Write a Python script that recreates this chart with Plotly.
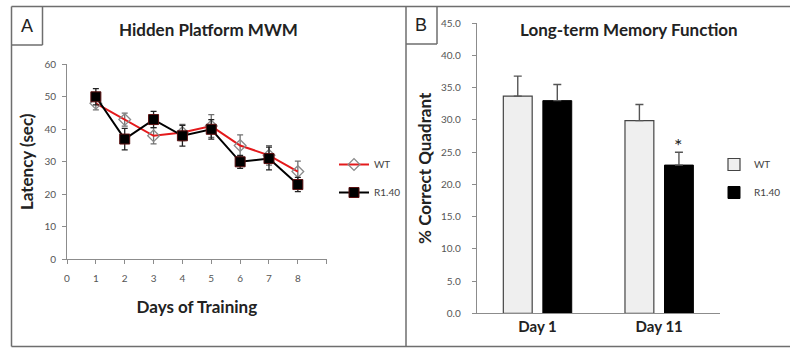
import plotly.graph_objects as go

W, H = 790, 348

# ---- Panel A data ----
days = [1, 2, 3, 4, 5, 6, 7, 8]
wt_latency = [48, 43, 38, 39, 41, 35, 32, 27]
wt_latency_err = [2.0, 2.0, 2.5, 2.5, 3.5, 3.3, 3.0, 3.2]
r140_latency = [50, 37, 43, 38, 40, 30, 31, 23]
r140_latency_err = [2.5, 3.3, 2.5, 3.2, 3.0, 2.0, 3.5, 2.2]
x_ticks_a = [0, 1, 2, 3, 4, 5, 6, 7, 8, 9]
x_ticklabels_a = ["0", "1", "2", "3", "4", "5", "6", "7", "8", ""]
y_ticks_a = [0, 10, 20, 30, 40, 50, 60]

# ---- Panel B data ----
groups = ["Day 1", "Day 11"]
wt_pct = [33.7, 29.9]
wt_pct_err = [3.1, 2.5]
r140_pct = [33.0, 23.0]
r140_pct_err = [2.5, 2.0]
y_ticks_b = [0, 5, 10, 15, 20, 25, 30, 35, 40, 45]
sig_marks = ["", "*"]

FONT = "Lato"
TICK = "#555555"
TXT = "#222222"


def px(x):
    return x / W


def py(y):
    return 1 - y / H


fig = go.Figure()

fig.add_trace(go.Scatter(
    x=days, y=wt_latency, name="WT", mode="lines+markers", legendgroup="wt",
    line=dict(color="#e41a1c", width=2),
    marker=dict(symbol="diamond-open", size=9, color="#8a8a8a", line=dict(width=1.3)),
    error_y=dict(type="data", array=wt_latency_err, color="#707070", thickness=1.3, width=3),
    xaxis="x", yaxis="y", legend="legend"))
fig.add_trace(go.Scatter(
    x=days, y=r140_latency, name="R1.40", mode="lines+markers", legendgroup="r140",
    line=dict(color="#000000", width=2),
    marker=dict(symbol="square", size=10, color="#000000", line=dict(color="#5a1010", width=1)),
    error_y=dict(type="data", array=r140_latency_err, color="#222222", thickness=1.3, width=3),
    xaxis="x", yaxis="y", legend="legend"))

fig.add_trace(go.Bar(
    x=groups, y=wt_pct, name="WT", legendgroup="wt_b",
    marker=dict(color="#efefef", line=dict(color="#444444", width=1.2)),
    error_y=dict(type="data", array=wt_pct_err, arrayminus=[0] * len(wt_pct_err), symmetric=False,
                 color="#555555", thickness=1.4, width=4),
    xaxis="x2", yaxis="y2", legend="legend2"))
fig.add_trace(go.Bar(
    x=groups, y=r140_pct, name="R1.40", legendgroup="r140_b",
    marker=dict(color="#000000", line=dict(color="#000000", width=1)),
    error_y=dict(type="data", array=r140_pct_err, arrayminus=[0] * len(r140_pct_err), symmetric=False,
                 color="#555555", thickness=1.4, width=4),
    xaxis="x2", yaxis="y2", legend="legend2"))

for g, v, e, s in zip(groups, r140_pct, r140_pct_err, sig_marks):
    if s:
        fig.add_annotation(x=g, y=v + e, xref="x2", yref="y2", text=s, showarrow=False,
                           xshift=19, yanchor="bottom", yshift=-7,
                           font=dict(family=FONT, size=20, color=TXT))

axis_common = dict(showgrid=False, zeroline=False, showline=True, linecolor="#8c8c8c", linewidth=1,
                   ticks="outside", ticklen=4, tickcolor="#8c8c8c", automargin=False,
                   tickfont=dict(family=FONT, size=10, color=TICK))
title_font = dict(family=FONT, size=17, color=TXT, weight="bold")

fig.update_layout(
    width=W, height=H, margin=dict(l=0, r=0, t=0, b=0, autoexpand=False),
    paper_bgcolor="white", plot_bgcolor="white",
    font=dict(family=FONT),
    barmode="group", bargap=0.35, bargroupgap=0.27,
    xaxis=dict(domain=[px(67), px(326.7)], range=[0, 9], tickvals=x_ticks_a, ticktext=x_ticklabels_a,
               anchor="y", ticklabelstandoff=6,
               title=dict(text="Days of Training", font=title_font, standoff=17),
               **axis_common),
    yaxis=dict(domain=[py(259.3), py(64.3)], range=[0, 60], tickvals=y_ticks_a, anchor="x",
               ticklabelstandoff=4,
               title=dict(text="Latency (sec)", font=title_font, standoff=6),
               **axis_common),
    xaxis2=dict(domain=[px(476.7), px(720)], range=[-0.5, 1.5], anchor="y2", automargin=False,
                showgrid=False, zeroline=False, showline=True, linecolor="#8c8c8c", linewidth=1,
                ticks="", tickfont=dict(family=FONT, size=15, color=TXT, weight="bold")),
    yaxis2=dict(domain=[py(313.3), py(23.3)], range=[0, 45], tickvals=y_ticks_b, tickformat=".1f",
                anchor="x2", ticklabelstandoff=9,
                title=dict(text="% Correct Quadrant", font=title_font, standoff=4),
                **axis_common),
    legend=dict(x=px(334), y=py(150), xanchor="left", yanchor="top", bgcolor="rgba(0,0,0,0)",
                font=dict(family=FONT, size=10, color="#444"), tracegroupgap=9, itemwidth=30),
    legend2=dict(x=px(714), y=py(150), xanchor="left", yanchor="top", bgcolor="rgba(0,0,0,0)",
                 font=dict(family=FONT, size=10, color="#444"), tracegroupgap=9, itemwidth=30),
)


def label(xp, yp, text, font):
    fig.add_annotation(x=px(xp), y=py(yp), xref="paper", yref="paper", text=text,
                       xanchor="center", yanchor="middle", showarrow=False, font=font)


label(208, 29, "Hidden Platform MWM", title_font)
label(629, 29, "Long-term Memory Function", title_font)
label(27, 26, "A", dict(family="Liberation Sans", size=18, color=TXT))
label(421.5, 25, "B", dict(family="Liberation Sans", size=18, color=TXT))

# frame lines
frame = "#6e6e6e"
lines = [
    (11.5, 6.5, 790, 6.5), (11.5, 6.5, 11.5, 346.5), (11.5, 346.5, 790, 346.5),
    (406, 6.5, 406, 346.5),
    (42.5, 6.5, 42.5, 45), (11.5, 45, 42.5, 45),
    (437, 6.5, 437, 44), (406, 44, 437, 44),
]
for x0, y0, x1, y1 in lines:
    fig.add_shape(type="line", xref="paper", yref="paper", x0=px(x0), y0=py(y0), x1=px(x1), y1=py(y1),
                  line=dict(color=frame, width=1.5))

fig.write_html("out.html")
